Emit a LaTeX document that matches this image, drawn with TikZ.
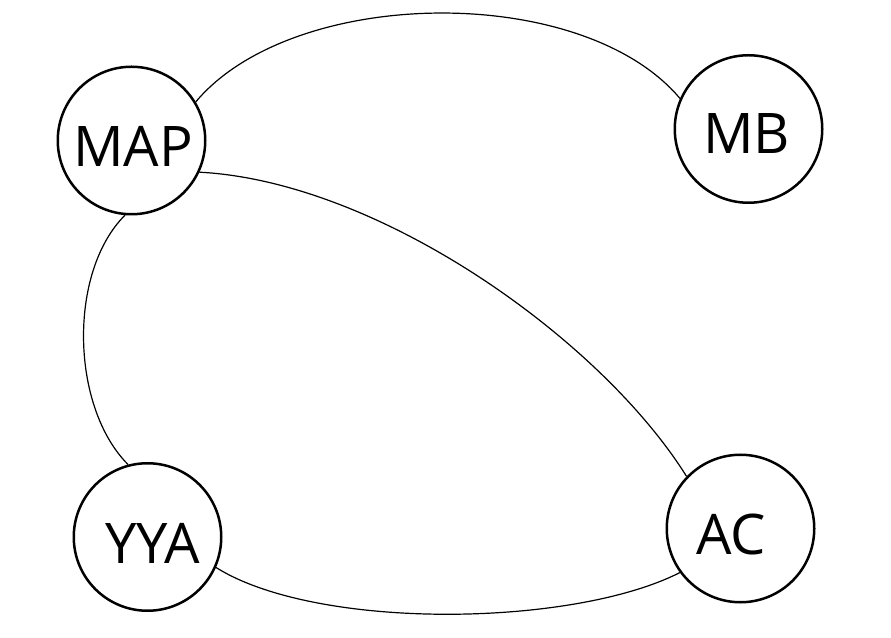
\documentclass[tikz,border=0pt]{standalone}
\usepackage{fontspec}
\setmainfont{Open Sans}
\usepackage{tikz}

\begin{document}
\begin{tikzpicture}[x=1pt, y=1pt,
    vertex/.style={draw, circle, line width=2.5pt, minimum size=147.5pt, inner sep=0pt},
    caption/.style={inner sep=0pt, font=\fontsize{56}{60}\selectfont},
    link/.style={line width=1.2pt}]
                \useasboundingbox (0, 0) rectangle (891, 637);

                \node[vertex] (v_map) at (131.5, 496.5) {};
                \node[vertex] (v_mb) at (748.5, 508) {};
                \node[vertex] (v_yya) at (147.5, 100) {};
                \node[vertex] (v_ac) at (740.5, 108.5) {};

                \node[caption] (t_map) at (133, 491) {MAP};
                \node[caption] (t_mb) at (746.5, 503.5) {MB};
                \node[caption] (t_yya) at (152.5, 94) {YYA};
                \node[caption] (t_ac) at (731, 103) {AC};

                \draw[link]
                (v_map.31) to[out=50, in=130, looseness=0.8] (v_mb.156)
                (v_map.-25) to[out=-3, in=122, out looseness=0.8, in looseness=0.72] (v_ac.136)
                (v_map.-95) to[out=225, in=135, looseness=0.83] (v_yya.105)
                (v_yya.-24) to[out=-32, in=207, looseness=0.66] (v_ac.216);
            \end{tikzpicture}
\end{document}
